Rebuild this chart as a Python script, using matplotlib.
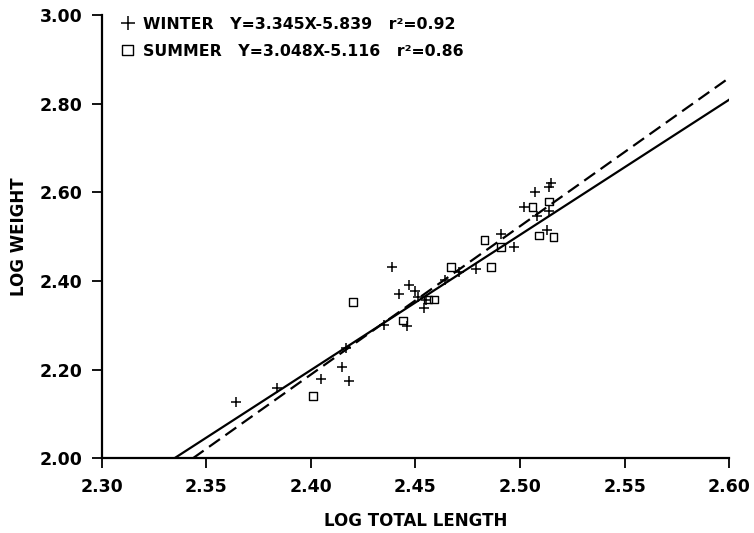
import matplotlib
matplotlib.use("Agg")
import matplotlib.pyplot as plt
import numpy as np

# Winter data (+)
winter_x = [2.364, 2.384, 2.405, 2.418, 2.415, 2.417, 2.435, 2.446, 2.439, 2.447,
            2.450, 2.442, 2.454, 2.451, 2.455, 2.464, 2.471, 2.479, 2.491, 2.497,
            2.502, 2.507, 2.515, 2.514, 2.514, 2.508, 2.513]
winter_y = [2.128, 2.158, 2.179, 2.174, 2.205, 2.249, 2.300, 2.298, 2.432, 2.390,
            2.378, 2.370, 2.340, 2.364, 2.357, 2.403, 2.420, 2.427, 2.506, 2.477,
            2.567, 2.600, 2.621, 2.613, 2.557, 2.547, 2.515]

# Summer data (open squares)
summer_x = [2.401, 2.420, 2.444, 2.456, 2.459, 2.467, 2.486, 2.483, 2.491, 2.506,
            2.514, 2.509, 2.516]
summer_y = [2.140, 2.353, 2.311, 2.358, 2.358, 2.432, 2.432, 2.492, 2.477, 2.567,
            2.579, 2.503, 2.499]

# Regression coefficients (from legend)
winter_slope, winter_int, winter_r2 = 3.345, -5.839, 0.92
summer_slope, summer_int, summer_r2 = 3.048, -5.116, 0.86

xticks = [2.30, 2.35, 2.40, 2.45, 2.50, 2.55, 2.60]
yticks = [2.00, 2.20, 2.40, 2.60, 2.80, 3.00]

plt.rcParams['font.family'] = ['DejaVu Sans']
plt.rcParams['font.weight'] = 'bold'

fig = plt.figure(figsize=(7.54, 5.33), dpi=100)
ax = fig.add_axes([0.135, 0.140, 0.832, 0.832])

xmin, xmax = 2.30, 2.60
ymin, ymax = 2.00, 3.00

def line_pts(a, b):
    x0 = (ymin - b) / a
    xs = np.array([x0, xmax])
    return xs, a * xs + b

wx, wy = line_pts(winter_slope, winter_int)
sx, sy = line_pts(summer_slope, summer_int)
ax.plot(wx, wy, color='black', lw=1.6, linestyle=(0, (6, 3)))
ax.plot(sx, sy, color='black', lw=1.6, linestyle='-')

hw = ax.scatter(winter_x, winter_y, marker='+', s=60, color='black', linewidths=1.1, zorder=3)
hs = ax.scatter(summer_x, summer_y, marker='s', s=30, facecolors='none',
                edgecolors='black', linewidths=1.0, zorder=3)

lab_w = "WINTER   Y=%.3fX%.3f   r\u00b2=%.2f" % (winter_slope, winter_int, winter_r2)
lab_s = "SUMMER   Y=%.3fX%.3f   r\u00b2=%.2f" % (summer_slope, summer_int, summer_r2)
leg = ax.legend([hw, hs], [lab_w, lab_s], loc='upper left', frameon=False,
                handlelength=0.8, handletextpad=0.6, borderaxespad=0.0,
                labelspacing=0.75, prop={'weight': 'bold', 'size': 11.3},
                bbox_to_anchor=(0.021, 1.010), markerscale=1.35,
                scatteryoffsets=[0.5])

ax.set_xlim(xmin, xmax)
ax.set_ylim(ymin, ymax)
ax.set_xticks(xticks)
ax.set_yticks(yticks)
ax.set_xticklabels(["%.2f" % v for v in xticks], fontsize=12.5, fontweight='bold')
ax.set_yticklabels(["%.2f" % v for v in yticks], fontsize=12.5, fontweight='bold')
ax.tick_params(direction='out', length=7, width=1.3, pad=7)
for s in ['top', 'right']:
    ax.spines[s].set_visible(False)
for s in ['left', 'bottom']:
    ax.spines[s].set_linewidth(1.6)

ax.set_xlabel("LOG TOTAL LENGTH", fontsize=12, fontweight='bold', labelpad=12)
ax.set_ylabel("LOG WEIGHT", fontsize=12, fontweight='bold', labelpad=8)

fig.savefig("out.png", dpi=100)
